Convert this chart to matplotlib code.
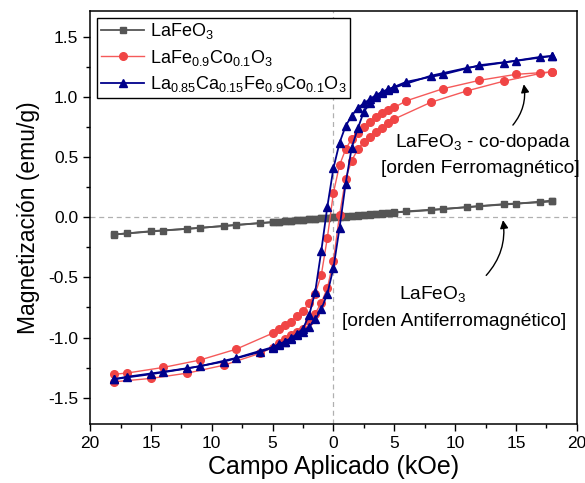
import matplotlib
matplotlib.use("Agg")
import matplotlib.pyplot as plt
from matplotlib.ticker import MultipleLocator, FuncFormatter

plt.rcParams['font.family'] = ['Liberation Sans', 'DejaVu Sans']
plt.rcParams['mathtext.fontset'] = 'custom'
plt.rcParams['mathtext.rm'] = 'Liberation Sans'
plt.rcParams['mathtext.it'] = 'Liberation Sans:italic'
plt.rcParams['mathtext.default'] = 'regular'

# field values (kOe) for each branch
H_desc = [18, 15, 12, 9, 6, 5, 4.5, 4, 3.5, 3, 2.5, 2, 1.5, 1, 0.5, 0,
          -0.5, -1, -1.5, -2, -2.5, -3, -3.5, -4, -4.5, -5, -8, -11, -14, -17, -18]
H_asc = [-18, -15, -12, -9, -6, -5, -4.5, -4, -3.5, -3, -2.5, -2, -1.5, -1, -0.5, 0,
         0.5, 1, 1.5, 2, 2.5, 3, 3.5, 4, 4.5, 5, 8, 11, 14, 17, 18]

# LaFeO3
gray_desc = [0.14, 0.113, 0.093, 0.07, 0.05, 0.042, 0.037, 0.033, 0.029, 0.025, 0.021,
             0.017, 0.013, 0.009, 0.005, 0.001, -0.003, -0.007, -0.011, -0.015, -0.019,
             -0.023, -0.027, -0.031, -0.035, -0.039, -0.063, -0.088, -0.11, -0.134, -0.142]
gray_asc = [-0.143, -0.115, -0.095, -0.072, -0.048, -0.041, -0.037, -0.033, -0.029, -0.025,
            -0.021, -0.017, -0.013, -0.009, -0.005, -0.001, 0.003, 0.007, 0.011, 0.015,
            0.019, 0.023, 0.027, 0.031, 0.035, 0.04, 0.06, 0.085, 0.11, 0.125, 0.133]

# LaFe0.9Co0.1O3
red_desc = [1.21, 1.19, 1.14, 1.07, 0.97, 0.915, 0.893, 0.866, 0.832, 0.796, 0.75,
            0.705, 0.655, 0.565, 0.435, 0.205, -0.17, -0.48, -0.635, -0.716, -0.78,
            -0.82, -0.867, -0.898, -0.932, -0.964, -1.097, -1.188, -1.249, -1.296, -1.305]
red_asc = [-1.368, -1.34, -1.296, -1.23, -1.13, -1.083, -1.047, -1.014, -0.98, -0.955,
           -0.925, -0.862, -0.80, -0.71, -0.589, -0.36, 0.02, 0.32, 0.473, 0.565, 0.63,
           0.672, 0.713, 0.746, 0.783, 0.818, 0.957, 1.053, 1.133, 1.197, 1.211]

# La0.85Ca0.15Fe0.9Co0.1O3
blue_desc = [1.343, 1.302, 1.266, 1.189, 1.128, 1.086, 1.067, 1.045, 1.017, 0.985, 0.948,
             0.912, 0.845, 0.76, 0.62, 0.41, 0.09, -0.28, -0.62, -0.815, -0.925, -0.97,
             -1.005, -1.033, -1.055, -1.08, -1.17, -1.24, -1.285, -1.327, -1.346]
blue_asc = [-1.346, -1.305, -1.257, -1.20, -1.119, -1.085, -1.06, -1.04, -1.012, -0.982,
            -0.95, -0.912, -0.848, -0.765, -0.635, -0.42, -0.088, 0.28, 0.58, 0.74, 0.88,
            0.95, 1.0, 1.035, 1.058, 1.08, 1.178, 1.244, 1.288, 1.335, 1.343]

labels = ['LaFeO$_3$', 'LaFe$_{0.9}$Co$_{0.1}$O$_3$',
          'La$_{0.85}$Ca$_{0.15}$Fe$_{0.9}$Co$_{0.1}$O$_3$']

fig = plt.figure(figsize=(5.85, 4.83), dpi=100)
ax = fig.add_axes([0.154, 0.122, 0.832, 0.856])

ax.axhline(0, color='#b0b0b0', ls='--', lw=0.9, dashes=(4, 3), zorder=0)
ax.axvline(0, color='#b0b0b0', ls='--', lw=0.9, dashes=(4, 3), zorder=0)

series = [
    (gray_desc, gray_asc, '#555555', '#555555', 's', 4.5, 1.3),
    (red_desc, red_asc, '#f55a5a', '#f04545', 'o', 5.5, 1.0),
    (blue_desc, blue_asc, '#00008b', '#00008b', '^', 6.0, 1.3),
]
for (desc, asc, lc, mc, mk, ms, lw), lab in zip(series, labels):
    ax.plot(H_desc, desc, color=lc, lw=lw, marker=mk, ms=ms, mfc=mc, mec=mc, label=lab)
    ax.plot(H_asc, asc, color=lc, lw=lw, marker=mk, ms=ms, mfc=mc, mec=mc)

ax.set_xlim(-20, 20)
ax.set_ylim(-1.72, 1.72)
ax.xaxis.set_major_locator(MultipleLocator(5))
ax.xaxis.set_minor_locator(MultipleLocator(2.5))
ax.yaxis.set_major_locator(MultipleLocator(0.5))
ax.yaxis.set_minor_locator(MultipleLocator(0.25))
ax.xaxis.set_major_formatter(FuncFormatter(lambda v, p: f'{abs(v):g}'))
ax.yaxis.set_major_formatter(FuncFormatter(lambda v, p: f'{v:.1f}'.replace('\u2212', '-')))
ax.tick_params(which='both', direction='out', top=False, right=False, labelsize=12.5, width=1)
ax.tick_params(which='major', length=5)
ax.tick_params(which='minor', length=3)
for s in ax.spines.values():
    s.set_linewidth(1.1)

ax.set_xlabel('Campo Aplicado (kOe)', fontsize=18, labelpad=3)
ax.set_ylabel('Magnetización (emu/g)', fontsize=16.5, labelpad=6)

leg = ax.legend(loc='upper left', fontsize=13, frameon=True, fancybox=False,
                edgecolor='black', framealpha=1, borderpad=0.2, labelspacing=0.35,
                handlelength=2.4, handletextpad=0.3, borderaxespad=0.4,
                bbox_to_anchor=(0.0, 1.0))
leg.get_frame().set_linewidth(1.0)

ax.text(12.25, 0.62, 'LaFeO$_3$ - co-dopada', ha='center', va='center', fontsize=13.8)
ax.text(12.1, 0.41, '[orden Ferromagnético]', ha='center', va='center', fontsize=13.8)
ax.annotate('', xy=(15.6, 1.13), xytext=(14.6, 0.75),
            arrowprops=dict(arrowstyle='-|>', color='black', lw=1, mutation_scale=12,
                            connectionstyle='arc3,rad=0.25'))

ax.text(8.2, -0.64, 'LaFeO$_3$', ha='center', va='center', fontsize=13.8)
ax.text(9.95, -0.87, '[orden Antiferromagnético]', ha='center', va='center', fontsize=13.8)
ax.annotate('', xy=(13.9, 0.0), xytext=(12.4, -0.50),
            arrowprops=dict(arrowstyle='-|>', color='black', lw=1, mutation_scale=12,
                            connectionstyle='arc3,rad=0.25'))

fig.savefig('out.png', dpi=100)
